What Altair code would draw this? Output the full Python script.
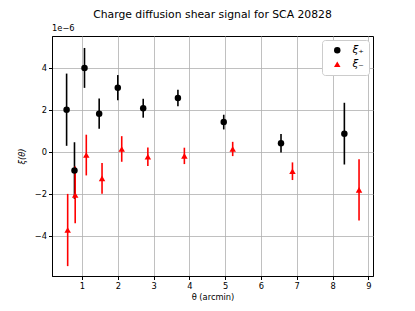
import altair as alt
import pandas as pd

# xi_plus (units of 1e-6)
xp = [0.57, 0.79, 1.07, 1.48, 2.00, 2.71, 3.68, 4.96, 6.56, 8.33]
yp = [2.03, -0.87, 4.02, 1.84, 3.08, 2.10, 2.59, 1.44, 0.43, 0.89]
ep = [1.72, 1.35, 0.95, 0.72, 0.60, 0.45, 0.39, 0.35, 0.44, 1.47]
# xi_minus (units of 1e-6)
xm = [0.60, 0.81, 1.12, 1.56, 2.11, 2.84, 3.86, 5.21, 6.88, 8.74]
ym = [-3.70, -2.03, -0.13, -1.24, 0.16, -0.21, -0.17, 0.16, -0.90, -1.79]
em = [1.72, 1.35, 0.97, 0.73, 0.61, 0.44, 0.39, 0.34, 0.42, 1.46]

labels = ["ξ₊", "ξ₋"]
rows = []
for x, y, e in zip(xp, yp, ep):
    rows.append({"x": x, "y": y, "lo": y - e, "hi": y + e, "s": labels[0]})
for x, y, e in zip(xm, ym, em):
    rows.append({"x": x, "y": y, "lo": y - e, "hi": y + e, "s": labels[1]})
df = pd.DataFrame(rows)

font = "DejaVu Sans"
xs = alt.Scale(domain=[0.162, 9.13], nice=False, zero=False)
ys = alt.Scale(domain=[-5.89, 5.54], nice=False, zero=False)
cs = alt.Scale(domain=labels, range=["black", "red"])
ss = alt.Scale(domain=labels, range=["circle", "triangle-up"])

xax = alt.Axis(values=list(range(1, 10)), title="θ (arcmin)", grid=True,
               gridColor="#b0b0b0", gridWidth=0.8, domainColor="black",
               tickColor="black", tickSize=3.5, labelFontSize=8.3,
               titleFontSize=8.3, titleFontWeight="normal", labelColor="black",
               titleColor="black", labelPadding=2, titlePadding=3, labelFont=font,
               titleFont=font)
yax = alt.Axis(values=[-4, -2, 0, 2, 4], title="ξ(θ)", grid=True, format="d",
               gridColor="#b0b0b0", gridWidth=0.8, domainColor="black",
               tickColor="black", tickSize=3.5, labelFontSize=8.3,
               titleFontSize=8.3, titleFontWeight="normal", labelColor="black",
               titleColor="black", labelPadding=2, titlePadding=8, labelFont=font,
               titleFont=font, titleFontStyle="italic")

base = alt.Chart(df)
bars = base.mark_rule(strokeWidth=1.6).encode(
    x=alt.X("x:Q", scale=xs, axis=xax),
    y=alt.Y("lo:Q", scale=ys, axis=yax),
    y2="hi:Q",
    color=alt.Color("s:N", scale=cs, legend=None),
)
pts = base.mark_point(filled=True, opacity=1, size=42).encode(
    x=alt.X("x:Q", scale=xs),
    y=alt.Y("y:Q", scale=ys),
    color=alt.Color("s:N", scale=cs, legend=alt.Legend(title=None)),
    shape=alt.Shape("s:N", scale=ss, legend=alt.Legend(title=None)),
)
exp = alt.Chart(pd.DataFrame({"t": ["1e−6"]})).mark_text(
    align="left", baseline="bottom", fontSize=8.3, font=font, dy=-3, color="black"
).encode(x=alt.value(0), y=alt.value(0), text="t:N")

chart = alt.layer(bars, pts, exp).resolve_legend(
    color="independent", shape="independent"
).properties(
    width=321, height=240,
    title=alt.TitleParams("Charge diffusion shear signal for SCA 20828",
                          fontSize=10.8, font=font, fontWeight="normal",
                          color="black", offset=4),
    autosize=alt.AutoSizeParams(type="none"),
    padding={"left": 44, "top": 28, "right": 30, "bottom": 30},
).configure_view(stroke="black", strokeWidth=1).configure_legend(
    orient="top-right", offset=4, fillColor="white", strokeColor="#cccccc",
    cornerRadius=3, padding=5, labelFontSize=10.5, labelFont=font,
    labelFontStyle="italic",
    symbolSize=42, symbolStrokeWidth=0, labelColor="black", rowPadding=3,
    symbolOffset=5, labelOffset=10
)

chart.save("out.html", embed_options={"renderer": "svg", "actions": False})
